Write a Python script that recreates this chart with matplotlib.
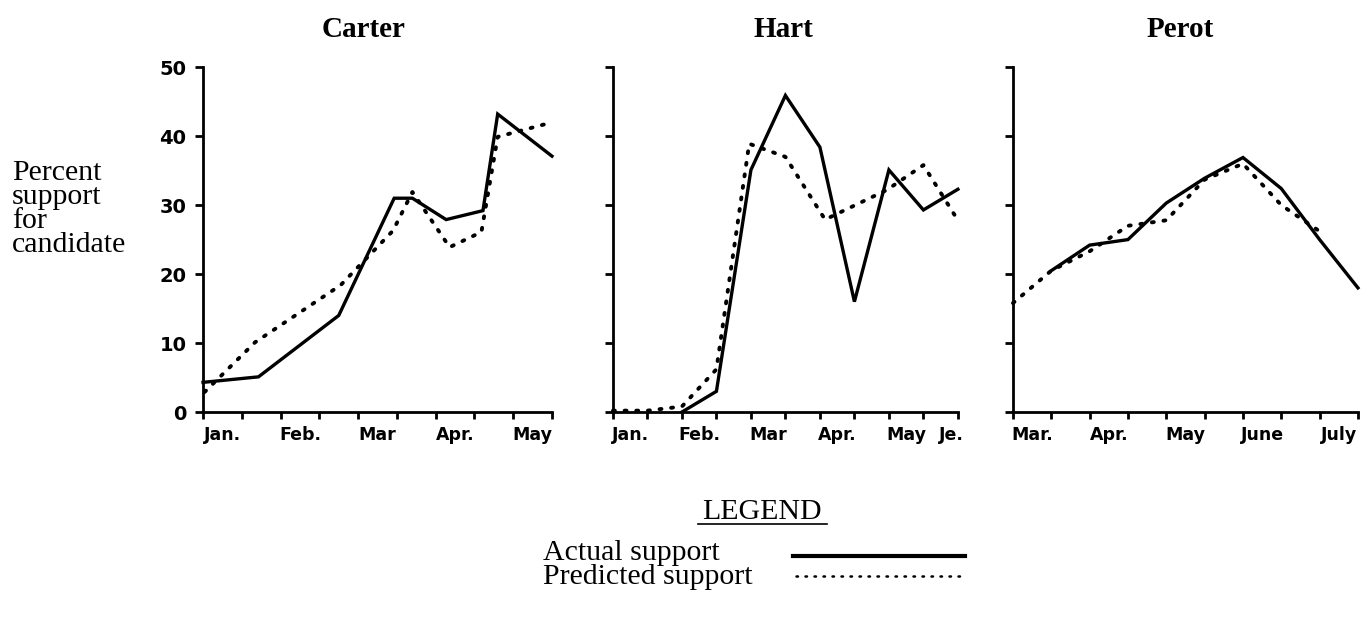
import matplotlib
matplotlib.use("Agg")
import matplotlib.pyplot as plt
from matplotlib.lines import Line2D

# x positions are in half-month steps (one tick per step)
carter_x_act = [0, 1.43, 3.5, 4.93, 5.4, 6.27, 7.22, 7.6, 9.0]
carter_act = [4.3, 5.1, 14.0, 31.0, 31.0, 27.9, 29.2, 43.2, 37.1]
carter_x_pred = [0.04, 1.34, 3.55, 4.9, 5.4, 6.36, 7.18, 7.6, 9.0]
carter_pred = [2.9, 10.1, 18.4, 26.3, 31.9, 23.9, 26.1, 39.9, 42.0]

hart_x_act = [2, 3, 4, 5, 6, 7, 8, 9, 10]
hart_act = [0, 3.0, 35.1, 45.9, 38.4, 16.0, 35.1, 29.3, 32.3]
hart_x_pred = [0, 1, 2, 3, 3.95, 5, 6.15, 7.94, 9, 10]
hart_pred = [0.2, 0.2, 0.8, 6.2, 38.9, 37.0, 27.9, 32.2, 35.8, 27.8]

perot_x_act = [1, 2, 3, 4, 5, 6, 7, 8, 9]
perot_act = [20.5, 24.2, 25.0, 30.3, 33.9, 36.9, 32.4, 25.0, 18.0]
perot_x_pred = [0, 1, 2, 3, 4, 5, 6, 7, 8]
perot_pred = [15.8, 20.5, 23.3, 27.0, 27.8, 33.7, 36.0, 30.0, 26.2]

carter_months = ["Jan.", "Feb.", "Mar", "Apr.", "May"]
carter_month_pos = [0.5, 2.5, 4.5, 6.5, 8.5]
hart_months = ["Jan.", "Feb.", "Mar", "Apr.", "May", "Je."]
hart_month_pos = [0.5, 2.5, 4.5, 6.5, 8.5, 9.8]
perot_months = ["Mar.", "Apr.", "May", "June", "July"]
perot_month_pos = [0.5, 2.5, 4.5, 6.5, 8.5]

y_ticks = [0, 10, 20, 30, 40, 50]

serif = "Liberation Serif"
sans = "DejaVu Sans"

fig = plt.figure(figsize=(13.7, 6.18), dpi=100)

panels = [
    ("Carter", [0.1482, 0.3333, 0.2547, 0.558], 9, carter_x_act, carter_act,
     carter_x_pred, carter_pred, carter_months, carter_month_pos, -14),
    ("Hart", [0.4474, 0.3333, 0.2518, 0.558], 10, hart_x_act, hart_act,
     hart_x_pred, hart_pred, hart_months, hart_month_pos, -2),
    ("Perot", [0.7394, 0.3333, 0.2518, 0.558], 9, perot_x_act, perot_act,
     perot_x_pred, perot_pred, perot_months, perot_month_pos, -5),
]

for i, (name, rect, nt, xa, ya, xp, yp, months, mpos, toff) in enumerate(panels):
    ax = fig.add_axes(rect)
    ax.plot(xa, ya, color="black", lw=2.4, solid_joinstyle="miter", clip_on=False, zorder=3)
    ax.plot(xp, yp, color="black", lw=2.8, linestyle=(0, (0.5, 2.5)),
            dash_capstyle="round", clip_on=False, zorder=4)
    ax.set_xlim(0, nt)
    ax.set_ylim(0, 50)
    for s in ["top", "right"]:
        ax.spines[s].set_visible(False)
    for s in ["left", "bottom"]:
        ax.spines[s].set_linewidth(2)
    ax.set_xticks(range(nt + 1))
    ax.set_xticklabels([])
    ax.set_xticks(mpos, minor=True)
    ax.set_xticklabels(months, minor=True, fontsize=12.5, fontweight="bold", family=sans)
    ax.tick_params(axis="x", which="major", direction="out", length=5, width=2)
    ax.tick_params(axis="x", which="minor", length=0, pad=10)
    ax.set_yticks(y_ticks)
    ax.tick_params(axis="y", direction="out", length=6, width=2, pad=6)
    if i == 0:
        ax.set_yticklabels([str(v) for v in y_ticks], fontsize=14, fontweight="bold", family=sans)
    else:
        ax.set_yticklabels([])
    ax.set_title(name, family=serif, fontweight="bold", fontsize=21, pad=22,
                 x=0.5 + toff / (rect[2] * 1370))

fig.text(12 / 1370, 1 - 209 / 618, "Percent\nsupport\nfor\ncandidate",
         family=serif, fontsize=21.5, ha="left", va="center", linespacing=0.9)

# legend block
fig.text(762 / 1370, 1 - 512 / 618, "LEGEND", family=serif, fontsize=21.5,
         ha="center", va="center")
fig.add_artist(Line2D([698 / 1370, 827 / 1370], [1 - 524 / 618, 1 - 524 / 618],
                      transform=fig.transFigure, color="black", lw=1.2))
fig.text(543 / 1370, 1 - 553 / 618, "Actual support", family=serif, fontsize=21.5,
         ha="left", va="center")
fig.text(543 / 1370, 1 - 577 / 618, "Predicted support", family=serif, fontsize=21.5,
         ha="left", va="center")
fig.add_artist(Line2D([793 / 1370, 965 / 1370], [1 - 556 / 618, 1 - 556 / 618],
                      transform=fig.transFigure, color="black", lw=3))
fig.add_artist(Line2D([796 / 1370, 965 / 1370], [1 - 576 / 618, 1 - 576 / 618],
                      transform=fig.transFigure, color="black", lw=1.8,
                      linestyle=(0, (0.6, 3.0)), dash_capstyle="round"))

fig.savefig("out.png", dpi=100, facecolor="white")
